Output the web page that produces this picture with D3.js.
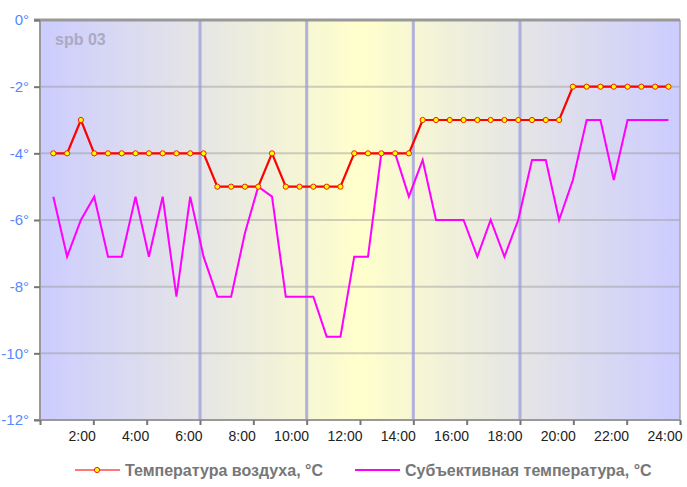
<!DOCTYPE html>
<html><head><meta charset="utf-8">
<script src="https://cdn.jsdelivr.net/npm/d3@7"></script>
<style>body{margin:0;background:#fff}svg{display:block;font-family:"Liberation Sans",Arial,sans-serif}</style>
</head><body><svg id="c" width="687" height="487"></svg>
<script>
const times = ["0:30","1:01","1:32","2:02","2:33","3:04","3:35","4:05","4:36","5:07","5:38","6:08","6:39","7:10","7:41","8:11","8:42","9:13","9:44","10:15","10:45","11:16","11:47","12:18","12:48","13:19","13:50","14:21","14:51","15:22","15:53","16:24","16:54","17:25","17:56","18:27","18:58","19:28","19:59","20:30","21:01","21:31","22:02","22:33","23:04","23:34"];
const airTemp = [-4,-4,-3,-4,-4,-4,-4,-4,-4,-4,-4,-4,-5,-5,-5,-5,-4,-5,-5,-5,-5,-5,-4,-4,-4,-4,-4,-3,-3,-3,-3,-3,-3,-3,-3,-3,-3,-3,-2,-2,-2,-2,-2,-2,-2,-2];
const feelsLike = [-5.3,-7.1,-6.0,-5.3,-7.1,-7.1,-5.3,-7.1,-5.3,-8.3,-5.3,-7.1,-8.3,-8.3,-6.4,-5.0,-5.3,-8.3,-8.3,-8.3,-9.5,-9.5,-7.1,-7.1,-4.0,-4.0,-5.3,-4.2,-6.0,-6.0,-6.0,-7.1,-6.0,-7.1,-6.0,-4.2,-4.2,-6.0,-4.8,-3.0,-3.0,-4.8,-3.0,-3.0,-3.0,-3.0];
const xTickHours = [0,2,4,6,8,10,12,14,16,18,20,22,24];
const xTickLabels = ["","2:00","4:00","6:00","8:00","10:00","12:00","14:00","16:00","18:00","20:00","22:00","24:00"];
const yTicks = [0,-2,-4,-6,-8,-10,-12];
const markerHours = [6,10,14,18];
const seriesNames = ["Температура воздуха, °C","Субъективная температура, °C"];
const title = "spb 03";

const toH = s => { const [h,m] = s.split(":").map(Number); return h + m/60; };
const svg = d3.select("#c");
const L=40,R=680,T=20,B=420;
const x = d3.scaleLinear().domain([0,24]).range([L,R]);
const y = d3.scaleLinear().domain([-12,0]).range([B,T]);

const defs = svg.append("defs");
const g = defs.append("linearGradient").attr("id","bg").attr("x1","0").attr("x2","1").attr("y1","0").attr("y2","0");
g.append("stop").attr("offset","0%").attr("stop-color","#ccccff");
g.append("stop").attr("offset","50%").attr("stop-color","#ffffcc");
g.append("stop").attr("offset","100%").attr("stop-color","#ccccff");
svg.append("rect").attr("x",L).attr("y",T).attr("width",R-L).attr("height",B-T).attr("fill","url(#bg)");

// horizontal grid
svg.append("g").selectAll("line").data(yTicks.filter(v=>v!==0&&v!==-12)).join("line")
  .attr("x1",L).attr("x2",R).attr("y1",d=>y(d)).attr("y2",d=>y(d))
  .attr("stroke","#999").attr("stroke-opacity",0.45).attr("stroke-width",2);
// vertical markers
svg.append("g").selectAll("line").data(markerHours).join("line")
  .attr("x1",d=>x(d)).attr("x2",d=>x(d)).attr("y1",T).attr("y2",B)
  .attr("stroke","#9999dd").attr("stroke-opacity",0.75).attr("stroke-width",3);

// frame
svg.append("line").attr("x1",L).attr("x2",L).attr("y1",T).attr("y2",B).attr("stroke","#999").attr("stroke-width",2);
svg.append("line").attr("x1",R).attr("x2",R).attr("y1",T).attr("y2",B).attr("stroke","#aaa").attr("stroke-width",1.5);
svg.append("line").attr("x1",L-6).attr("x2",R).attr("y1",T).attr("y2",T).attr("stroke","#999").attr("stroke-width",3);
svg.append("line").attr("x1",L-6).attr("x2",R).attr("y1",B).attr("y2",B).attr("stroke","#999").attr("stroke-width",2);

// y axis
const ya = svg.append("g").attr("transform",`translate(${L},0)`)
  .call(d3.axisLeft(y).tickValues(yTicks).tickSize(6).tickPadding(5).tickFormat(d=>d+"°"));
ya.select(".domain").remove();
ya.selectAll(".tick line").attr("stroke","#777").attr("stroke-width",2);
ya.selectAll("text").attr("fill","#5588ff").attr("font-size","15px").attr("font-family","Liberation Sans, Arial, sans-serif");

// x axis
const xa = svg.append("g").attr("transform",`translate(0,${B})`)
  .call(d3.axisBottom(x).tickValues(xTickHours).tickSize(5).tickPadding(6).tickFormat((d,i)=>xTickLabels[i]));
xa.select(".domain").remove();
xa.selectAll(".tick line").attr("stroke","#777").attr("stroke-width",2);
xa.selectAll("text").attr("fill","#222").attr("font-size","14px").attr("text-anchor","end").attr("x",2)
  .attr("font-family","Liberation Sans, Arial, sans-serif");

svg.append("text").attr("x",55).attr("y",45).text(title).attr("font-size","16px").attr("font-weight","bold").attr("fill","#aaaac4");

const pts1 = times.map((t,i)=>[toH(t),airTemp[i]]);
const pts2 = times.map((t,i)=>[toH(t),feelsLike[i]]);
const line = d3.line().x(d=>x(d[0])).y(d=>y(d[1]));

svg.append("path").datum(pts2).attr("d",line).attr("fill","none").attr("stroke","#ff00ff").attr("stroke-width",2);
svg.append("path").datum(pts1).attr("d",line).attr("fill","none").attr("stroke","#ff0000").attr("stroke-width",2.2);
svg.append("g").selectAll("circle").data(pts1).join("circle")
  .attr("cx",d=>x(d[0])).attr("cy",d=>y(d[1])).attr("r",2.6)
  .attr("fill","#ffff00").attr("stroke","#ee2200").attr("stroke-width",1);

// legend
const lg = svg.append("g");
lg.append("line").attr("x1",75).attr("x2",120).attr("y1",470).attr("y2",470).attr("stroke","#ff7777").attr("stroke-width",2);
lg.append("circle").attr("cx",97).attr("cy",470).attr("r",2.6).attr("fill","#ffff00").attr("stroke","#ee2200");
lg.append("text").attr("x",125).attr("y",476).text(seriesNames[0]).attr("font-size","16px").attr("font-weight","bold").attr("fill","#777");
lg.append("line").attr("x1",355).attr("x2",400).attr("y1",470).attr("y2",470).attr("stroke","#ff00ff").attr("stroke-width",2);
lg.append("text").attr("x",405).attr("y",476).text(seriesNames[1]).attr("font-size","16px").attr("font-weight","bold").attr("fill","#777");
</script></body></html>
